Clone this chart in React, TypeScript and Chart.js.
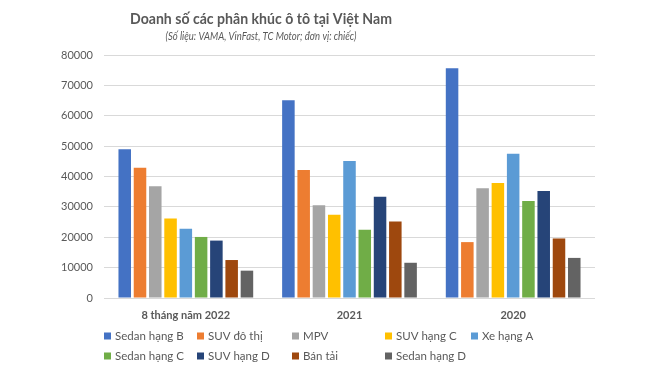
import React, { useEffect, useRef } from "react";
import { Chart, registerables } from "chart.js";

Chart.register(...registerables);

const TITLE = "Doanh số các phân khúc ô tô tại Việt Nam";
const SUBTITLE = "(Số liệu: VAMA, VinFast, TC Motor; đơn vị: chiếc)";

const categories = ["8 tháng năm 2022", "2021", "2020"];
const yTicks = [0, 10000, 20000, 30000, 40000, 50000, 60000, 70000, 80000];

const seriesNames = [
  "Sedan hạng B",
  "SUV đô thị",
  "MPV",
  "SUV hạng C",
  "Xe hạng A",
  "Sedan hạng C",
  "SUV hạng D",
  "Bán tải",
  "Sedan hạng D",
];

const sedanB = [49000, 65100, 75600];
const suvDoThi = [42900, 42100, 18400];
const mpv = [36800, 30500, 36100];
const suvC = [26200, 27400, 37900];
const xeA = [22800, 45100, 47500];
const sedanC = [20100, 22500, 31900];
const suvD = [18900, 33300, 35200];
const banTai = [12500, 25200, 19600];
const sedanD = [9000, 11600, 13200];

const seriesValues = [sedanB, suvDoThi, mpv, suvC, xeA, sedanC, suvD, banTai, sedanD];

const seriesColors = [
  "#4472C4",
  "#ED7D31",
  "#A5A5A5",
  "#FFC000",
  "#5B9BD5",
  "#70AD47",
  "#264478",
  "#9E480E",
  "#636363",
];

const FONT = "Lato, 'Open Sans', sans-serif";
const TEXT_COLOR = "#595959";

const textPlugin = {
  id: "customText",
  afterDraw(chart: any) {
    const ctx = chart.ctx;
    ctx.save();
    ctx.fillStyle = TEXT_COLOR;
    ctx.textAlign = "center";
    ctx.textBaseline = "middle";
    ctx.font = `bold 16px ${FONT}`;
    ctx.fillText(TITLE, 261, 19, 262);
    ctx.font = `italic 10.5px ${FONT}`;
    ctx.fillText(SUBTITLE, 261, 37, 191);

    const cols = [104, 197, 292, 385, 471];
    const rows = [336, 356];
    chart.data.datasets.forEach((ds: any, i: number) => {
      const r = Math.floor(i / 5);
      const c = i % 5;
      const x = cols[c];
      const y = rows[r];
      ctx.fillStyle = ds.backgroundColor;
      ctx.fillRect(x, y - 3.5, 7, 7);
      ctx.fillStyle = TEXT_COLOR;
      ctx.textAlign = "left";
      ctx.font = `11.5px ${FONT}`;
      ctx.fillText(ds.label, x + 11, y + 0.5);
    });
    ctx.restore();
  },
};

export default function App() {
  const canvasRef = useRef<HTMLCanvasElement | null>(null);

  useEffect(() => {
    if (!canvasRef.current) return;
    const chart = new Chart(canvasRef.current, {
      type: "bar",
      data: {
        labels: categories,
        datasets: seriesNames.map((name, i) => ({
          label: name,
          data: seriesValues[i],
          backgroundColor: seriesColors[i],
          borderWidth: 0,
          barPercentage: 0.82,
          categoryPercentage: 0.84,
        })),
      },
      options: {
        responsive: false,
        animation: false,
        layout: { padding: { top: 55, right: 65, left: 0, bottom: 0 } },
        plugins: {
          legend: { display: false },
          title: { display: false },
          tooltip: { enabled: false },
        },
        scales: {
          x: {
            grid: { display: false, drawTicks: false },
            border: { display: false },
            ticks: {
              color: TEXT_COLOR,
              font: { family: FONT, size: 11, weight: "bold" },
              padding: 11,
              maxRotation: 0,
            },
            afterFit: (scale: any) => {
              scale.height = 73;
            },
          },
          y: {
            min: 0,
            max: 80000,
            grid: { color: "#D9D9D9", drawTicks: false },
            border: { display: false },
            afterBuildTicks: (scale: any) => {
              scale.ticks = yTicks.map((v) => ({ value: v }));
            },
            ticks: {
              color: TEXT_COLOR,
              font: { family: FONT, size: 11 },
              padding: 11,
              callback: (v: any) => String(v),
            },
            afterFit: (scale: any) => {
              scale.width = 104;
            },
          },
        },
      },
      plugins: [textPlugin],
    });
    return () => chart.destroy();
  }, []);

  return (
    <div style={{ position: "absolute", left: 0, top: 0, width: 660, height: 371, background: "#fff" }}>
      <canvas ref={canvasRef} width={660} height={371} />
    </div>
  );
}
